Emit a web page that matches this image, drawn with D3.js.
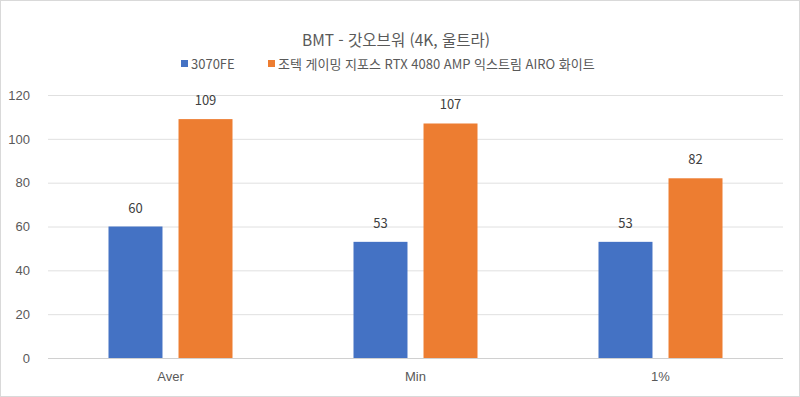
<!DOCTYPE html>
<html lang="ko">
<head>
<meta charset="UTF-8">
<title>BMT - 갓오브워 (4K, 울트라)</title>
<script src="https://d3js.org/d3.v7.min.js"></script>
<style>
    body { margin: 0; background: #fff; font-family: "Noto Sans CJK KR", "Noto Sans", sans-serif; }
    svg { display: block; }
    .tick text { fill: #595959; font-size: 13px; }
</style>
</head>
<body>
<svg id="chart"></svg>
<script>
    const categories = ["Aver", "Min", "1%"];
    const seriesNames = ["3070FE", "조텍 게이밍 지포스 RTX 4080 AMP 익스트림 AIRO 화이트"];
    const series3070 = [60, 53, 53];
    const series4080 = [109, 107, 82];
    const yTicks = [0, 20, 40, 60, 80, 100, 120];
    const colors = ["#4472C4", "#ED7D31"];

    const width = 800, height = 397;
    const margin = { top: 95, right: 17, bottom: 39, left: 48 };

    const svg = d3.select("#chart").attr("width", width).attr("height", height);

    svg.append("rect")
        .attr("x", 0.5).attr("y", 0.5)
        .attr("width", width - 1).attr("height", height - 1)
        .attr("fill", "#fff").attr("stroke", "#d9d9d9");

    const x = d3.scaleBand()
        .domain(categories)
        .range([margin.left, width - margin.right]);

    // two bars per group, 54px wide with a 16px gap, centred in the band
    const groupPad = (x.bandwidth() - 124) / 2;
    const xInner = d3.scaleBand()
        .domain([0, 1])
        .range([groupPad, x.bandwidth() - groupPad])
        .paddingInner(0.229);

    const y = d3.scaleLinear()
        .domain([0, 120])
        .range([height - margin.bottom, margin.top]);

    // gridlines
    svg.append("g")
        .selectAll("line")
        .data(yTicks)
        .join("line")
        .attr("x1", margin.left)
        .attr("x2", width - margin.right)
        .attr("y1", d => y(d) + 0.5)
        .attr("y2", d => y(d) + 0.5)
        .attr("stroke", d => d === 0 ? "#d0d0d0" : "#e0e0e0");

    // y axis labels
    const yAxis = svg.append("g")
        .attr("transform", `translate(${margin.left},0)`)
        .call(d3.axisLeft(y).tickValues(yTicks).tickSize(0).tickPadding(18));
    yAxis.select(".domain").remove();

    // x axis labels
    const xAxis = svg.append("g")
        .attr("transform", `translate(0,${height - margin.bottom})`)
        .call(d3.axisBottom(x).tickSize(0).tickPadding(14));
    xAxis.select(".domain").remove();

    const rows = categories.map((c, i) => ({ cat: c, values: [series3070[i], series4080[i]] }));

    const groups = svg.append("g")
        .selectAll("g")
        .data(rows)
        .join("g")
        .attr("transform", d => `translate(${x(d.cat)},0)`);

    groups.selectAll("rect")
        .data(d => d.values.map((v, k) => ({ k, v })))
        .join("rect")
        .attr("x", d => xInner(d.k))
        .attr("y", d => y(d.v))
        .attr("width", xInner.bandwidth())
        .attr("height", d => y(0) - y(d.v))
        .attr("fill", d => colors[d.k]);

    groups.selectAll("text")
        .data(d => d.values.map((v, k) => ({ k, v })))
        .join("text")
        .attr("x", d => xInner(d.k) + xInner.bandwidth() / 2)
        .attr("y", d => y(d.v) - 14)
        .attr("text-anchor", "middle")
        .attr("fill", "#404040")
        .attr("font-size", 13)
        .text(d => d.v);

    // title
    svg.append("text")
        .attr("x", width / 2 - 4)
        .attr("y", 46)
        .attr("text-anchor", "middle")
        .attr("fill", "#595959")
        .attr("font-size", 15.5)
        .text("BMT - 갓오브워 (4K, 울트라)");

    // legend
    const legend = svg.append("g").attr("transform", "translate(181,64)");
    const legendX = [0, 87];
    seriesNames.forEach((name, i) => {
        legend.append("rect")
            .attr("x", legendX[i]).attr("y", -4)
            .attr("width", 7).attr("height", 7)
            .attr("fill", colors[i]);
        legend.append("text")
            .attr("x", legendX[i] + 10).attr("y", 4.5)
            .attr("fill", "#595959")
            .attr("font-size", 13)
            .text(name);
    });
</script>
</body>
</html>
